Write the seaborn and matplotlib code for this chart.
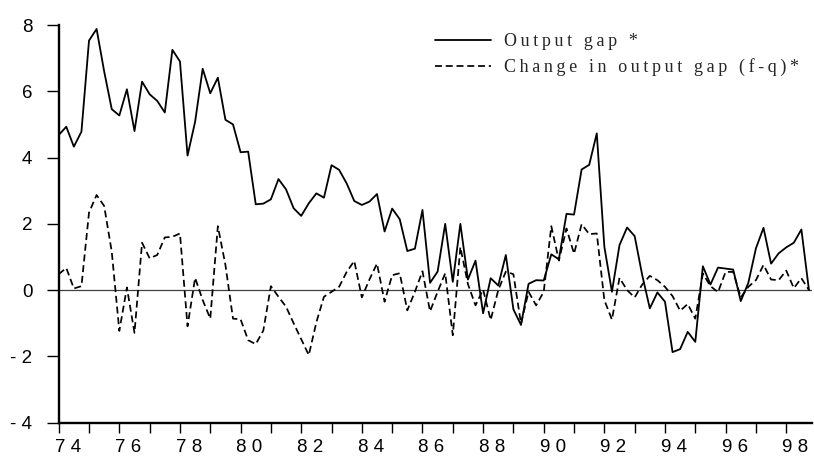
import numpy as np
import pandas as pd
import matplotlib
matplotlib.use("Agg")
import matplotlib.pyplot as plt
from matplotlib.transforms import ScaledTranslation
from matplotlib.ticker import MultipleLocator
import seaborn as sns

# quarterly data, 1974Q1 .. 1998Q4
quarters = pd.period_range("1974Q1", "1998Q4", freq="Q")

OUTPUT_GAP = [
    4.68, 4.93, 4.33, 4.78, 7.53, 7.88, 6.60, 5.46, 5.27, 6.06,
    4.80, 6.29, 5.91, 5.71, 5.36, 7.25, 6.90, 4.06, 5.08, 6.68,
    5.94, 6.41, 5.14, 5.00, 4.16, 4.18, 2.59, 2.61, 2.74, 3.35,
    3.04, 2.47, 2.24, 2.62, 2.92, 2.79, 3.77, 3.63, 3.22, 2.69,
    2.57, 2.67, 2.90, 1.77, 2.46, 2.14, 1.18, 1.25, 2.42, 0.22,
    0.56, 2.00, 0.25, 2.00, 0.32, 0.89, -0.70, 0.36, 0.14, 1.06,
    -0.58, -1.05, 0.19, 0.30, 0.29, 1.08, 0.93, 2.30, 2.28, 3.64,
    3.78, 4.73, 1.31, -0.05, 1.36, 1.89, 1.63, 0.45, -0.55, -0.07,
    -0.35, -1.87, -1.78, -1.26, -1.56, 0.72, 0.17, 0.68, 0.65, 0.62,
    -0.33, 0.22, 1.26, 1.88, 0.80, 1.11, 1.29, 1.43, 1.83, 0.00,
]

GAP_CHANGE = [
    0.48, 0.67, 0.05, 0.12, 2.34, 2.87, 2.54, 1.16, -1.23, 0.08,
    -1.29, 1.43, 0.96, 1.06, 1.59, 1.61, 1.71, -1.09, 0.37, -0.30,
    -0.86, 1.93, 0.76, -0.86, -0.88, -1.51, -1.63, -1.22, 0.12, -0.20,
    -0.50, -1.00, -1.48, -1.96, -0.97, -0.20, -0.05, 0.10, 0.55, 0.88,
    -0.22, 0.32, 0.80, -0.35, 0.45, 0.51, -0.61, -0.05, 0.57, -0.64,
    -0.05, 0.51, -1.36, 1.30, 0.18, -0.46, 0.02, -0.90, 0.00, 0.56,
    0.48, -1.01, -0.05, -0.46, -0.05, 1.93, 0.89, 1.86, 1.10, 1.99,
    1.69, 1.71, -0.30, -0.89, 0.37, 0.00, -0.22, 0.17, 0.43, 0.30,
    0.10, -0.18, -0.62, -0.42, -0.86, 0.50, 0.12, -0.06, 0.55, 0.55,
    -0.22, 0.10, 0.30, 0.76, 0.32, 0.30, 0.59, 0.06, 0.36, 0.00,
]

LABELS = ["Output gap *", "Change in output gap (f-q)*"]
YTICKS = [-4, -2, 0, 2, 4, 6, 8]
XTICKS = list(range(1974, 1999, 2))

t = quarters.year + (quarters.quarter - 1) / 4.0
df = pd.DataFrame({"t": t, "gap": OUTPUT_GAP, "chg": GAP_CHANGE})

sns.set_style("ticks")
plt.rcParams["font.family"] = ["Liberation Sans", "DejaVu Sans"]

fig = plt.figure(figsize=(8.14, 4.57), dpi=100)
ax = fig.add_axes([58.7 / 814, 1 - 422.7 / 457, (812 - 58.7) / 814, (422.7 - 25) / 457])

ax.axhline(0, color="#404040", lw=0.9, zorder=1)
sns.lineplot(data=df, x="t", y="gap", ax=ax, color="black", lw=1.3, label=LABELS[0])
sns.lineplot(data=df, x="t", y="chg", ax=ax, color="black", lw=1.25,
             dashes=False, label=LABELS[1])
ax.get_lines()[-1].set_dashes((4.0, 2.2))

ax.set_xlim(1974, 1998.85)
ax.set_ylim(-4, 8)
ax.set_xlabel("")
ax.set_ylabel("")

sns.despine(ax=ax)
for s in ("left", "bottom"):
    ax.spines[s].set_linewidth(1.7)
    ax.spines[s].set_color("black")

ax.set_yticks(YTICKS)
ax.set_yticklabels([("- %d" % -v) if v < 0 else str(v) for v in YTICKS])
ax.set_xticks(XTICKS)
ax.set_xticklabels([" ".join(str(y)[2:]) for y in XTICKS])
ax.xaxis.set_minor_locator(MultipleLocator(1))
ax.tick_params(axis="y", length=9, width=1, pad=10, labelsize=13.5, colors="black")
ax.tick_params(axis="x", which="both", length=7.4, width=1, pad=4.5, labelsize=13.5, colors="black")
off = ScaledTranslation(9 / 100, 0, fig.dpi_scale_trans)
for lab in ax.get_xticklabels():
    lab.set_transform(lab.get_transform() + off)

spaced = ["\u2009".join(s) for s in LABELS]
h = ax.get_lines()[1:3]
leg = ax.legend(h, spaced, loc="upper left", bbox_to_anchor=(435 / 814, 1 - 33 / 457),
                bbox_transform=fig.transFigure, frameon=False, borderpad=0,
                borderaxespad=0, handlelength=3.1, handletextpad=0.7,
                labelspacing=0.45,
                prop={"family": ["Liberation Serif", "DejaVu Serif"], "size": 13})

fig.savefig("out.png", dpi=100)
